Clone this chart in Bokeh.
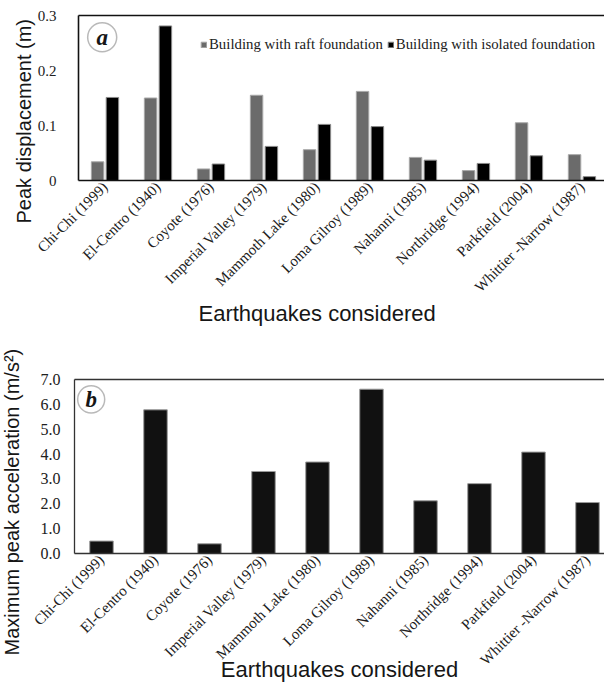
from math import pi
from bokeh.plotting import figure
from bokeh.layouts import column, row
from bokeh.models import (Range1d, FixedTicker, LinearAxis, Label, Legend, LegendItem,
                          BoxAnnotation, ColumnDataSource, NumeralTickFormatter, Title)
from bokeh.embed import file_html
from bokeh.resources import INLINE

# ---------------- data ----------------
earthquakes = ["Chi-Chi (1999)", "El-Centro (1940)", "Coyote (1976)", "Imperial Valley (1979)",
               "Mammoth Lake (1980)", "Loma Gilroy (1989)", "Nahanni (1985)",
               "Northridge (1994)", "Parkfield (2004)", "Whittier -Narrow (1987)"]
raft_disp = [0.034, 0.150, 0.021, 0.155, 0.056, 0.162, 0.042, 0.018, 0.105, 0.047]
isolated_disp = [0.151, 0.281, 0.030, 0.062, 0.102, 0.098, 0.037, 0.031, 0.045, 0.007]
max_accel = [0.50, 5.78, 0.39, 3.30, 3.68, 6.61, 2.12, 2.81, 4.08, 2.05]
disp_ticks = [0, 0.1, 0.2, 0.3]
accel_ticks = [0, 1, 2, 3, 4, 5, 6, 7]
series_names = ["Building with raft foundation", "Building with isolated foundation"]
x_title = "Earthquakes considered"
y_title_a = "Peak displacement (m)"
y_title_b = "Maximum peak acceleration (m/s\u00b2)"

n = len(earthquakes)
pos = [float(i) + 0.5 for i in range(n)]
label_map = {p: name for p, name in zip(pos, earthquakes)}

SERIF = "Liberation Serif"
SANS = "Liberation Sans"
INK = "#161616"


def style_axes(p, line_color, line_width, ylabel_standoff, ylabel_size):
    p.xgrid.visible = False
    p.ygrid.visible = False
    p.outline_line_color = None
    xax, yax = p.below[0], p.left[0]
    for ax in (xax, yax):
        ax.major_tick_line_color = None
        ax.minor_tick_line_color = None
        ax.major_tick_out = 0
        ax.major_tick_in = 0
        ax.axis_line_color = line_color
        ax.axis_line_width = line_width
        ax.major_label_text_font = SERIF
        ax.major_label_text_color = "#202020"
    yax.major_label_text_font_size = ylabel_size
    yax.major_label_standoff = ylabel_standoff
    xax.ticker = FixedTicker(ticks=pos)
    xax.major_label_overrides = label_map
    xax.major_label_orientation = pi / 4
    xax.major_label_text_font_size = "15px"
    xax.major_label_standoff = 4
    top = LinearAxis(ticker=FixedTicker(ticks=[]), major_tick_line_color=None,
                     minor_tick_line_color=None, major_tick_out=0, major_tick_in=0,
                     major_label_text_font_size="0px", axis_line_color=line_color,
                     axis_line_width=line_width)
    p.add_layout(top, "above")
    return xax, yax


H_A = 345
H_B = 684 - H_A

# ---------------- panel a ----------------
pa = figure(width=604, height=H_A, output_backend="svg", toolbar_location=None,
            x_range=Range1d(0, 9.925), y_range=Range1d(0, 0.3),
            min_border_left=78, min_border_right=0, min_border_top=15, min_border_bottom=165)
src_a = ColumnDataSource(dict(xr=[p - 0.14 for p in pos], xi=[p + 0.14 for p in pos],
                              raft=raft_disp, iso=isolated_disp))
r1 = pa.vbar(x="xr", top="raft", width=0.235, bottom=0, source=src_a,
             fill_color="#6b6b6b", line_color="#a8a8a8", line_width=1)
r2 = pa.vbar(x="xi", top="iso", width=0.235, bottom=0, source=src_a,
             fill_color="#000000", line_color="#8a8a8a", line_width=1)
xa, ya = style_axes(pa, "#111111", 1.6, 22, "15px")
ya.ticker = FixedTicker(ticks=disp_ticks)
ya.major_label_overrides = {0: "0"}

legend = Legend(items=[LegendItem(label=series_names[0], renderers=[r1]),
                       LegendItem(label=series_names[1], renderers=[r2])],
                orientation="horizontal", location=(122, 127), padding=0, margin=0,
                spacing=4, glyph_width=7, glyph_height=7, label_standoff=2,
                label_text_font=SERIF, label_text_font_size="14.8px",
                label_text_color="#202020", border_line_color=None,
                background_fill_alpha=0)
pa.add_layout(legend)

pa.add_layout(BoxAnnotation(left=0.447 - 0.274, right=0.447 + 0.274,
                            bottom=0.2605 - 0.0264, top=0.2605 + 0.0264,
                            border_radius=15, fill_color=None, fill_alpha=0,
                            line_color=INK, line_width=1.5))
pa.add_layout(Label(x=0.447, y=0.2605, text="a", text_align="center", text_baseline="middle",
                    text_font=SERIF, text_font_style="bold italic", text_font_size="23px",
                    text_color=INK))
pa.add_layout(Title(text=x_title, align="left", offset=120, vertical_align="top", standoff=-6,
                    text_font=SANS, text_font_style="normal", text_font_size="22px",
                    text_color=INK), "below")
pa.add_layout(Title(text=y_title_a, align="left", offset=-43, vertical_align="bottom",
                    standoff=0, text_font=SANS, text_font_style="normal",
                    text_font_size="20px", text_color=INK), "left")

# ---------------- panel b ----------------
W_YB = 30
pb = figure(width=604 - W_YB, height=H_B, output_backend="svg", toolbar_location=None,
            x_range=Range1d(0, 9.815), y_range=Range1d(0, 7),
            min_border_left=74 - W_YB, min_border_right=0, min_border_top=34,
            min_border_bottom=131)
src_b = ColumnDataSource(dict(x=pos, acc=max_accel))
pb.vbar(x="x", top="acc", width=0.435, bottom=0, source=src_b,
        fill_color="#111111", line_color="#9a9a9a", line_width=1)
xb, yb_axis = style_axes(pb, "#333333", 1.3, 14, "16px")
yb_axis.ticker = FixedTicker(ticks=accel_ticks)
yb_axis.formatter = NumeralTickFormatter(format="0.0")
xb.axis_label = x_title
xb.axis_label_standoff = -20
xb.axis_label_text_font = SANS
xb.axis_label_text_font_style = "normal"
xb.axis_label_text_font_size = "22px"
xb.axis_label_text_color = INK

pb.add_layout(BoxAnnotation(left=0.309 - 0.25, right=0.309 + 0.25,
                            bottom=6.20 - 0.544, top=6.20 + 0.544,
                            border_radius=14, fill_color=None, fill_alpha=0,
                            line_color=INK, line_width=1.5))
pb.add_layout(Label(x=0.309, y=6.20, text="b", text_align="center", text_baseline="middle",
                    text_font=SERIF, text_font_style="bold italic", text_font_size="23px",
                    text_color=INK))

# narrow companion plot that only carries the y title of panel b in its left panel
yb = figure(width=W_YB, height=H_B, output_backend="svg", toolbar_location=None,
            x_range=Range1d(0, 1), y_range=Range1d(0, 1), x_axis_type=None, y_axis_type=None,
            min_border_left=20, min_border_right=0, min_border_top=34, min_border_bottom=131)
yb.outline_line_color = None
yb.add_layout(Title(text=y_title_b, align="left", offset=-102, vertical_align="top",
                    standoff=0, text_font=SANS, text_font_style="normal",
                    text_font_size="20px", text_color=INK), "left")

layout = column(pa, row(yb, pb))
open("out.html", "w").write(file_html(layout, INLINE))
